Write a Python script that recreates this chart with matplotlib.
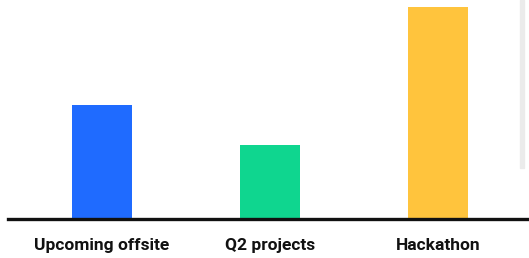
import matplotlib.pyplot as plt
from matplotlib.patches import Rectangle

categories = ["Upcoming offsite", "Q2 projects", "Hackathon"]
values = [54, 35, 100]
colors = ["#1F6BFF", "#0FD68F", "#FFC43D"]

fig = plt.figure(figsize=(5.29, 2.58), dpi=100)
ax = fig.add_axes([8 / 529, 39 / 258, 521 / 529, 219 / 258])

x = list(range(len(categories)))
ax.bar(x, values, width=0.357, color=colors, zorder=2)

ax.set_xlim(-0.56, 2.542)
ax.set_ylim(0, 103.3)
ax.set_xticks(x)
ax.set_xticklabels(categories, fontsize=12.5, fontweight="bold", family="Roboto", color="#111111")
ax.tick_params(axis="x", length=0, pad=14)
ax.set_yticks([])
for side in ["top", "right", "left"]:
    ax.spines[side].set_visible(False)
ax.spines["bottom"].set_linewidth(2.4)
ax.spines["bottom"].set_color("#111111")
ax.spines["bottom"].set_zorder(3)

# faint card edge on the right
fig.patches.append(Rectangle((520 / 529, 90 / 258), 4 / 529, 168 / 258,
                             transform=fig.transFigure, color="#EBEBEB", zorder=0))

fig.savefig("out.png", dpi=100)
